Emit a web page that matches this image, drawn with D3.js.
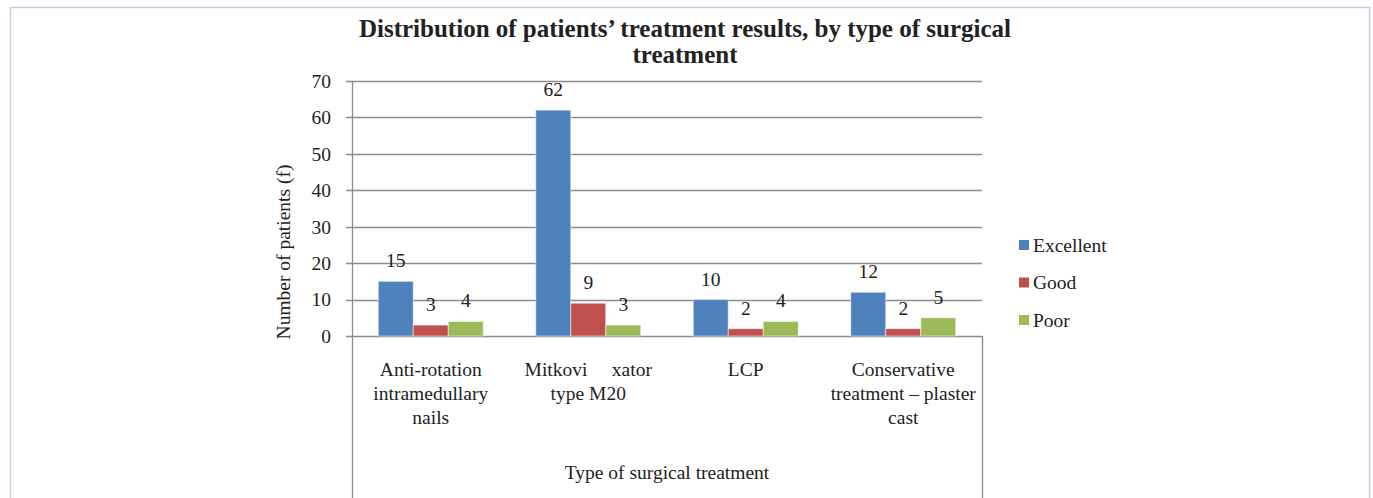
<!DOCTYPE html>
<html>
<head>
<meta charset="utf-8">
<script src="https://cdn.jsdelivr.net/npm/d3@7"></script>
<style>
  body { margin: 0; background: #fff; }
  svg { display: block; font-family: "Liberation Serif", "Times New Roman", serif; }
</style>
</head>
<body>
<div id="chart"></div>
<script>
// datos del gráfico
const categories = [
  ["Anti-rotation", "intramedullary", "nails"],
  ["Mitkovi     xator", "type M20"],
  ["LCP"],
  ["Conservative", "treatment \u2013 plaster", "cast"]
];
const seriesNames = ["Excellent", "Good", "Poor"];
const excellent = [15, 62, 10, 12];
const good = [3, 9, 2, 2];
const poor = [4, 3, 4, 5];
const yTicks = [0, 10, 20, 30, 40, 50, 60, 70];
const colors = ["#4F81BD", "#C0504D", "#9BBB59"];

const W = 1373, H = 498;
const plot = {left: 352, right: 982, top: 81, bottom: 336};
const fs = 19.5;

const svg = d3.select("#chart").append("svg")
  .attr("width", W).attr("height", H);

// marco exterior
svg.append("rect")
  .attr("x", 10.5).attr("y", 7.5)
  .attr("width", 1359).attr("height", 520)
  .attr("fill", "none").attr("stroke", "#c9c9e6").attr("stroke-width", 1.5);

const x0 = d3.scaleBand()
  .domain(d3.range(categories.length))
  .range([plot.left, plot.right]);
const barW = x0.bandwidth() / 4.5;
const x1 = d3.scaleBand()
  .domain(d3.range(seriesNames.length))
  .range([0, barW * 3]);
const y = d3.scaleLinear().domain([0, 70]).range([plot.bottom, plot.top]);

// líneas de la cuadrícula
svg.append("g")
  .selectAll("line").data(yTicks).join("line")
  .attr("x1", plot.left - 6).attr("x2", plot.right)
  .attr("y1", d => Math.round(y(d)) + 0.5).attr("y2", d => Math.round(y(d)) + 0.5)
  .attr("stroke", "#8c8c8c").attr("stroke-width", 1.3);

// eje vertical y caja del eje de categorías
svg.append("line")
  .attr("x1", plot.left + 0.5).attr("x2", plot.left + 0.5)
  .attr("y1", plot.top).attr("y2", H)
  .attr("stroke", "#8c8c8c").attr("stroke-width", 1.3);
svg.append("line")
  .attr("x1", plot.right + 0.5).attr("x2", plot.right + 0.5)
  .attr("y1", plot.bottom).attr("y2", H)
  .attr("stroke", "#8c8c8c").attr("stroke-width", 1.3);

// etiquetas del eje y
svg.append("g")
  .selectAll("text").data(yTicks).join("text")
  .attr("x", 331).attr("y", d => y(d))
  .attr("dy", "0.35em")
  .attr("text-anchor", "end")
  .attr("font-size", fs).attr("fill", "#222")
  .text(d => d);

svg.append("text")
  .attr("transform", "translate(290,252) rotate(-90)")
  .attr("text-anchor", "middle")
  .attr("font-size", fs).attr("fill", "#222")
  .text("Number of patients (f)");

// barras
const series = [excellent, good, poor];
const groups = svg.append("g").selectAll("g").data(series).join("g");
groups.each(function(vals, s) {
  const g = d3.select(this);
  g.selectAll("rect").data(vals).join("rect")
    .attr("x", (d, i) => x0(i) + (x0.bandwidth() - barW * 3) / 2 + x1(s))
    .attr("y", d => y(d))
    .attr("width", x1.bandwidth())
    .attr("height", d => plot.bottom - y(d))
    .attr("fill", colors[s])
    .attr("stroke", "#ffffff").attr("stroke-opacity", 0.5).attr("stroke-width", 1);
  g.selectAll("text").data(vals).join("text")
    .attr("x", (d, i) => x0(i) + (x0.bandwidth() - barW * 3) / 2 + x1(s) + x1.bandwidth() / 2)
    .attr("y", d => y(d) - 14)
    .attr("text-anchor", "middle")
    .attr("font-size", fs).attr("fill", "#222")
    .text(d => d);
});

// etiquetas de categorías
svg.append("g").selectAll("text").data(categories).join("text")
  .attr("x", (d, i) => x0(i) + x0.bandwidth() / 2)
  .attr("y", 376)
  .attr("text-anchor", "middle")
  .attr("font-size", fs).attr("fill", "#222")
  .each(function(lines) {
    d3.select(this).selectAll("tspan").data(lines).join("tspan")
      .attr("x", d3.select(this).attr("x"))
      .attr("dy", (d, k) => k === 0 ? 0 : 24)
      .style("white-space", "pre")
      .text(d => d);
  });

svg.append("text")
  .attr("x", (plot.left + plot.right) / 2).attr("y", 479)
  .attr("text-anchor", "middle")
  .attr("font-size", fs).attr("fill", "#222")
  .text("Type of surgical treatment");

// título
const title = svg.append("text")
  .attr("x", 685).attr("y", 37)
  .attr("text-anchor", "middle")
  .attr("font-size", 25).attr("font-weight", "bold").attr("fill", "#222");
title.append("tspan").attr("x", 685).text("Distribution of patients\u2019 treatment results, by type of surgical");
title.append("tspan").attr("x", 685).attr("dy", 26).text("treatment");

// leyenda
const legend = svg.append("g").selectAll("g").data(seriesNames).join("g")
  .attr("transform", (d, i) => "translate(1019," + (245 + i * 37.5) + ")");
legend.append("rect")
  .attr("x", 0).attr("y", -5).attr("width", 10).attr("height", 10)
  .attr("fill", (d, i) => colors[i]);
legend.append("text")
  .attr("x", 14).attr("dy", "0.35em")
  .attr("font-size", fs).attr("fill", "#222")
  .text(d => d);
</script>
</body>
</html>
